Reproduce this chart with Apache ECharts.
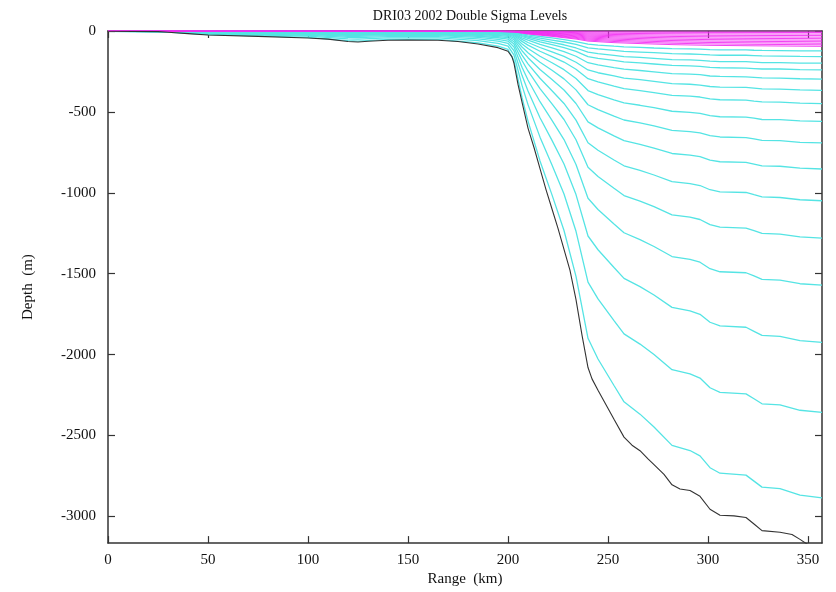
<!DOCTYPE html>
<html><head><meta charset="utf-8">
<script src="https://cdn.jsdelivr.net/npm/echarts@6/dist/echarts.min.js"></script>
<style>html,body{margin:0;padding:0;background:#fff}#c{width:836px;height:592px}</style>
</head><body><div id="c"></div>
<script>
const chartTitle = 'DRI03 2002 Double Sigma Levels';
const xAxisName = 'Range  (km)';
const yAxisName = 'Depth  (m)';
const xTicks = [0, 50, 100, 150, 200, 250, 300, 350];
const yTicks = [0, -500, -1000, -1500, -2000, -2500, -3000];
const xMax = 357;
const yMin = -3165;

// bathymetry (black line)
const bathyRange = [0, 25, 30, 40, 50, 75, 100, 110, 120, 125, 130, 140, 150, 165, 175, 185, 195, 200, 202, 203, 205, 207, 210, 213, 216, 219, 222, 225, 228, 231, 234, 237, 240, 242, 245, 249, 253, 258, 262, 266, 270, 273, 278, 282, 286, 291, 296, 301, 306, 313, 319, 323, 327, 336, 342, 346, 350, 357];
const bathyDepth = [-2, -4, -8, -16, -25, -33, -43, -50, -65, -68, -63, -57, -56, -57, -65, -80, -103, -125, -160, -200, -330, -440, -600, -720, -850, -980, -1100, -1220, -1350, -1480, -1660, -1880, -2080, -2150, -2220, -2310, -2400, -2510, -2560, -2594, -2645, -2680, -2740, -2805, -2831, -2840, -2876, -2956, -2993, -2997, -3007, -3047, -3088, -3098, -3112, -3142, -3175, -3185];

// upper (magenta) levels
const magentaRange = [0, 195, 203, 210, 222, 234, 240, 253, 266, 282, 301, 323, 357];
const magenta00 = [0, 0, 0, 0, 0, 0, 0, 0, 0, 0, 0, 0, 0];
const magenta01 = [0, -0.3, -0.6, -1.8, -3.3, -5.0, -6.2, -7.2, -7.8, -8.4, -8.9, -9.1, -9.5];
const magenta02 = [0, -0.6, -1.2, -3.7, -6.7, -10.0, -12.5, -14.4, -15.6, -16.8, -17.7, -18.3, -19.0];
const magenta03 = [0, -0.9, -1.8, -5.5, -10.0, -14.9, -18.7, -21.6, -23.3, -25.2, -26.6, -27.4, -28.4];
const magenta04 = [0, -1.2, -2.4, -7.3, -13.3, -19.9, -25.0, -28.8, -31.1, -33.7, -35.5, -36.6, -37.9];
const magenta05 = [0, -1.5, -3.0, -9.2, -16.7, -24.9, -31.2, -36.0, -38.9, -42.1, -44.3, -45.7, -47.4];
const magenta06 = [0, -1.9, -3.6, -11.0, -20.0, -29.9, -37.4, -43.2, -46.7, -50.5, -53.2, -54.8, -56.9];
const magenta07 = [0, -2.2, -4.2, -12.8, -23.3, -34.9, -43.7, -50.4, -54.5, -58.9, -62.1, -64.0, -66.4];
const magenta08 = [0, -2.5, -4.8, -14.6, -26.6, -39.8, -49.9, -57.6, -62.3, -67.3, -70.9, -73.1, -75.8];
const magenta09 = [0, -2.8, -5.4, -16.5, -30.0, -44.8, -56.2, -64.8, -70.0, -75.7, -79.8, -82.3, -85.3];
const magenta10 = [0, -3.1, -6.0, -18.3, -33.3, -49.8, -62.4, -72.0, -77.8, -84.2, -88.7, -91.4, -94.8];

// lower (cyan) levels
const cyanRange = [0, 30, 50, 75, 100, 120, 125, 140, 165, 185, 195, 200, 203, 207, 210, 216, 222, 228, 234, 240, 245, 253, 258, 266, 273, 282, 291, 296, 301, 306, 319, 323, 327, 336, 346, 357];
const cyan01 = [0, -0.3, -1, -1.3, -1.7, -2.5, -2.7, -2.2, -2.2, -3.1, -4, -4.9, -8, -18, -24, -34, -43, -53, -65, -81, -87, -94, -98, -101, -105, -109, -111, -112, -115, -117, -117, -119, -120, -121, -123, -123];
const cyan02 = [-0.1, -0.4, -1.3, -1.7, -2.2, -3.3, -3.4, -2.9, -2.9, -4, -5.2, -6.3, -10, -23, -31, -44, -56, -68, -83, -104, -111, -120, -126, -130, -134, -140, -142, -144, -148, -150, -150, -152, -154, -155, -157, -158];
const cyan03 = [-0.1, -0.5, -1.6, -2.1, -2.7, -4.1, -4.3, -3.6, -3.6, -5, -6.5, -7.9, -13, -28, -38, -55, -70, -85, -105, -131, -140, -151, -158, -163, -169, -177, -179, -181, -186, -189, -189, -192, -195, -195, -198, -199];
const cyan04 = [-0.2, -0.6, -1.9, -2.5, -3.3, -4.9, -5.2, -4.3, -4.3, -6.1, -7.8, -9.5, -15, -34, -46, -67, -84, -103, -126, -158, -169, -182, -191, -197, -204, -213, -216, -219, -225, -227, -229, -232, -235, -235, -239, -240];
const cyan05 = [-0.2, -0.8, -2.4, -3.1, -4, -6.1, -6.4, -5.4, -5.4, -7.5, -9.7, -11.8, -19, -42, -57, -83, -104, -127, -156, -196, -209, -226, -236, -244, -252, -264, -267, -270, -278, -281, -283, -286, -290, -291, -295, -297];
const cyan06 = [-0.2, -0.9, -2.9, -3.8, -5, -7.5, -7.9, -6.6, -6.6, -9.3, -11.9, -14.5, -23, -52, -71, -102, -129, -157, -193, -241, -258, -278, -291, -301, -311, -325, -329, -334, -343, -347, -349, -353, -358, -359, -364, -367];
const cyan07 = [-0.3, -1.1, -3.6, -4.7, -6.1, -9.2, -9.7, -8.1, -8.1, -11.4, -14.6, -17.8, -28, -64, -87, -125, -158, -192, -236, -295, -315, -341, -356, -368, -381, -398, -403, -408, -420, -425, -427, -433, -438, -440, -446, -449];
const cyan08 = [-0.4, -1.4, -4.4, -5.8, -7.6, -11.5, -12, -10.1, -10.1, -14.2, -18.2, -22.1, -35, -80, -108, -156, -196, -239, -294, -368, -393, -425, -444, -459, -474, -496, -503, -509, -523, -530, -532, -539, -547, -548, -556, -559];
const cyan09 = [-0.4, -1.8, -5.5, -7.2, -9.4, -14.2, -14.9, -12.5, -12.5, -17.5, -22.6, -27.4, -44, -99, -134, -193, -243, -296, -364, -456, -486, -526, -550, -568, -587, -614, -622, -630, -647, -655, -659, -667, -676, -678, -688, -692];
const cyan10 = [-0.5, -2.2, -6.8, -8.9, -11.6, -17.6, -18.4, -15.4, -15.4, -21.6, -27.8, -33.8, -54, -122, -165, -238, -300, -365, -448, -562, -599, -648, -678, -700, -724, -757, -767, -777, -798, -808, -812, -823, -834, -836, -848, -853];
const cyan11 = [-0.7, -2.7, -8.3, -11, -14.3, -21.6, -22.6, -18.9, -18.9, -26.6, -34.2, -41.5, -66, -149, -203, -292, -369, -448, -551, -691, -737, -797, -833, -861, -890, -931, -943, -955, -981, -994, -998, -1012, -1025, -1029, -1043, -1049];
const cyan12 = [-0.8, -3.2, -10.1, -13.4, -17.4, -26.3, -27.5, -23.1, -23.1, -32.4, -41.7, -50.6, -81, -182, -247, -356, -450, -547, -672, -842, -899, -972, -1017, -1051, -1085, -1136, -1150, -1165, -1197, -1212, -1218, -1234, -1251, -1255, -1273, -1280];
const cyan13 = [-1, -4, -12.4, -16.4, -21.4, -32.3, -33.8, -28.3, -28.3, -39.8, -51.2, -62.1, -99, -224, -303, -437, -552, -671, -825, -1034, -1103, -1193, -1247, -1289, -1332, -1394, -1411, -1429, -1469, -1488, -1494, -1514, -1535, -1540, -1562, -1571];
const cyan14 = [-1.2, -4.9, -15.2, -20.1, -26.2, -39.6, -41.4, -34.7, -34.7, -48.7, -62.7, -76.1, -122, -274, -371, -536, -676, -822, -1011, -1267, -1352, -1462, -1529, -1580, -1632, -1708, -1730, -1751, -1800, -1823, -1831, -1856, -1881, -1887, -1913, -1924];
const cyan15 = [-1.5, -6, -18.7, -24.6, -32.1, -48.5, -50.7, -42.5, -42.5, -59.7, -76.8, -93.3, -149, -336, -455, -656, -828, -1007, -1238, -1552, -1656, -1790, -1872, -1935, -1999, -2093, -2119, -2145, -2205, -2233, -2243, -2273, -2304, -2311, -2344, -2357];
const cyan16 = [-1.8, -7.3, -22.8, -30.1, -39.3, -59.3, -62.1, -52, -52, -73, -94, -114, -183, -411, -557, -803, -1013, -1233, -1516, -1899, -2027, -2191, -2292, -2368, -2447, -2561, -2593, -2626, -2699, -2733, -2745, -2782, -2819, -2828, -2869, -2885];

const magentaLevels = [magenta00, magenta01, magenta02, magenta03, magenta04, magenta05, magenta06, magenta07, magenta08, magenta09, magenta10];
const cyanLevels = [cyan01, cyan02, cyan03, cyan04, cyan05, cyan06, cyan07, cyan08, cyan09, cyan10, cyan11, cyan12, cyan13, cyan14, cyan15, cyan16];

const FONT = '"Liberation Serif", "DejaVu Serif", serif';
const AXIS_COLOR = '#333';
function pairs(xs, ys) { return xs.map((x, i) => [x, ys[i]]); }
function lineSeries(xs, ys, color, width) {
  return { type: 'line', data: pairs(xs, ys), showSymbol: false, symbol: 'none', silent: true,
           animation: false, lineStyle: { color: color, width: width }, xAxisIndex: 0, yAxisIndex: 0 };
}
const series = [];
cyanLevels.forEach(l => series.push(lineSeries(cyanRange, l, '#55e4e4', 1.3)));
magentaLevels.forEach(l => series.push(lineSeries(magentaRange, l, '#f22cf2', 0.9)));
series.push(lineSeries(bathyRange, bathyDepth, '#333333', 1.1));

const tickStyle = { show: true, inside: true, length: 7, lineStyle: { color: AXIS_COLOR, width: 1.2 } };
const chart = echarts.init(document.getElementById('c'), null, { renderer: 'canvas' });
chart.setOption({
  backgroundColor: '#fff',
  animation: false,
  title: { text: chartTitle, left: 465, top: 4, textAlign: 'center',
           textStyle: { fontFamily: FONT, fontSize: 14, fontWeight: 'normal', color: '#111' } },
  grid: { left: 108, right: 14, top: 31, bottom: 42, containLabel: false },
  xAxis: [
    { type: 'value', min: 0, max: xMax, position: 'bottom',
      name: xAxisName, nameLocation: 'middle', nameGap: 25,
      nameTextStyle: { fontFamily: FONT, fontSize: 15, color: '#111' },
      axisLine: { show: true, onZero: false, lineStyle: { color: AXIS_COLOR, width: 1.5 } },
      axisTick: Object.assign({ customValues: xTicks }, tickStyle),
      axisLabel: { customValues: xTicks, formatter: v => String(v), margin: 9,
                   fontFamily: FONT, fontSize: 15, color: '#111' },
      splitLine: { show: false } },
    { type: 'value', min: 0, max: xMax, position: 'top',
      axisLine: { show: true, onZero: false, lineStyle: { color: AXIS_COLOR, width: 1.5 } },
      axisTick: Object.assign({ customValues: xTicks }, tickStyle),
      axisLabel: { show: false }, splitLine: { show: false } }
  ],
  yAxis: [
    { type: 'value', min: yMin, max: 0, position: 'left',
      name: yAxisName, nameLocation: 'middle', nameGap: 72, nameRotate: 90,
      nameTextStyle: { fontFamily: FONT, fontSize: 15, color: '#111' },
      axisLine: { show: true, onZero: false, lineStyle: { color: AXIS_COLOR, width: 1.5 } },
      axisTick: Object.assign({ customValues: yTicks }, tickStyle),
      axisLabel: { customValues: yTicks, formatter: v => String(v), margin: 12,
                   fontFamily: FONT, fontSize: 15, color: '#111' },
      splitLine: { show: false } },
    { type: 'value', min: yMin, max: 0, position: 'right',
      axisLine: { show: true, onZero: false, lineStyle: { color: AXIS_COLOR, width: 1.5 } },
      axisTick: Object.assign({ customValues: yTicks }, tickStyle),
      axisLabel: { show: false }, splitLine: { show: false } }
  ],
  series: series
});
</script></body></html>
